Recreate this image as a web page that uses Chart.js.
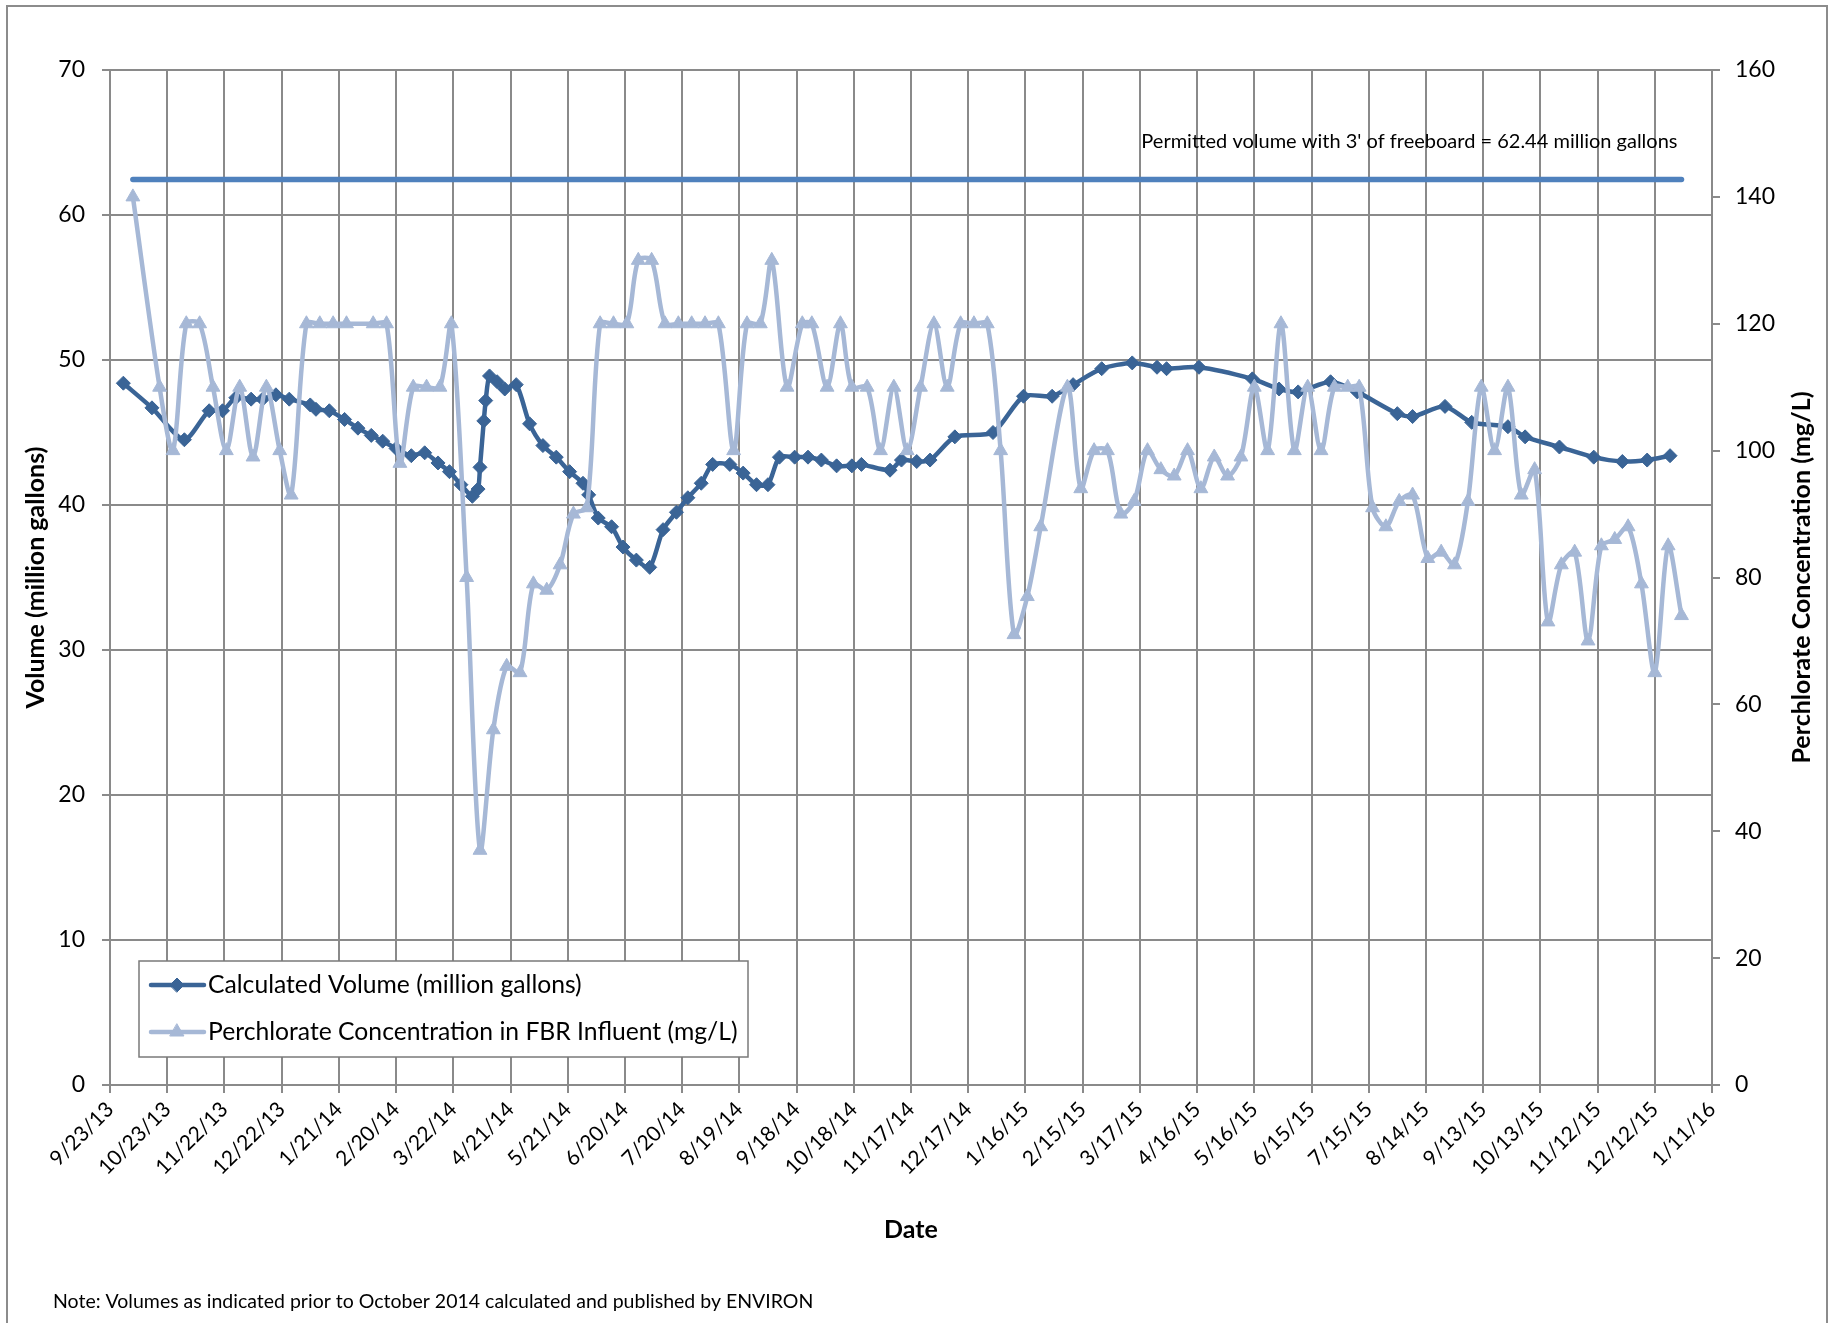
<!DOCTYPE html>
<html>
<head>
<meta charset="utf-8">
<title>Calculated Volume and Perchlorate Concentration</title>
<script src="https://cdn.jsdelivr.net/npm/chart.js@4.4.1/dist/chart.umd.min.js"></script>
<style>
    html, body { margin: 0; padding: 0; background: #fff; }
    #wrap { width: 1841px; height: 1323px; }
</style>
</head>
<body>
<div id="wrap"><canvas id="grafico" width="1841" height="1323"></canvas></div>
<script>
// Valores (datas em M/D/AA)
const volumeDates = ['9/30/13', '10/15/13', '11/1/13', '11/14/13', '11/21/13', '11/28/13', '12/6/13', '12/12/13', '12/19/13', '12/26/13',
    '1/6/14', '1/9/14', '1/16/14', '1/24/14', '1/31/14', '2/7/14', '2/13/14', '2/20/14', '2/28/14', '3/7/14',
    '3/14/14', '3/20/14', '3/26/14', '4/1/14', '4/4/14', '4/5/14', '4/7/14', '4/8/14', '4/10/14', '4/14/14',
    '4/18/14', '4/24/14', '5/1/14', '5/8/14', '5/15/14', '5/22/14', '5/29/14', '6/1/14', '6/6/14', '6/13/14',
    '6/19/14', '6/26/14', '7/3/14', '7/10/14', '7/17/14', '7/23/14', '7/30/14', '8/5/14', '8/14/14', '8/21/14',
    '8/28/14', '9/3/14', '9/9/14', '9/17/14', '9/24/14', '10/1/14', '10/9/14', '10/17/14', '10/22/14', '11/6/14',
    '11/12/14', '11/20/14', '11/27/14', '12/10/14', '12/30/14', '1/15/15', '1/30/15', '2/10/15', '2/25/15', '3/13/15',
    '3/26/15', '3/31/15', '4/17/15', '5/15/15', '5/29/15', '6/8/15', '6/25/15', '7/9/15', '7/30/15', '8/7/15',
    '8/24/15', '9/7/15', '9/26/15', '10/5/15', '10/23/15', '11/10/15', '11/25/15', '12/8/15', '12/20/15'];
const volumeValues = [48.4, 46.7, 44.5, 46.5, 46.5, 47.4, 47.3, 47.3, 47.6, 47.3,
    46.9, 46.6, 46.5, 45.9, 45.3, 44.8, 44.4, 43.9, 43.4, 43.6,
    42.9, 42.3, 41.4, 40.6, 41.1, 42.6, 45.8, 47.2, 48.9, 48.5,
    48.0, 48.3, 45.6, 44.1, 43.3, 42.3, 41.5, 40.7, 39.1, 38.5,
    37.1, 36.2, 35.7, 38.3, 39.5, 40.5, 41.5, 42.8, 42.8, 42.2,
    41.4, 41.4, 43.3, 43.3, 43.3, 43.1, 42.7, 42.7, 42.8, 42.4,
    43.1, 43.0, 43.1, 44.7, 45.0, 47.5, 47.5, 48.3, 49.4, 49.8,
    49.5, 49.4, 49.5, 48.7, 48.0, 47.8, 48.5, 47.8, 46.3, 46.1,
    46.8, 45.7, 45.4, 44.7, 44.0, 43.3, 43.0, 43.1, 43.4];

const perchlorateDates = ['10/5/13', '10/19/13', '10/26/13', '11/2/13', '11/9/13', '11/16/13', '11/23/13', '11/30/13', '12/7/13', '12/14/13',
    '12/21/13', '12/27/13', '1/4/14', '1/11/14', '1/18/14', '1/25/14', '2/8/14', '2/15/14', '2/22/14', '3/1/14',
    '3/8/14', '3/15/14', '3/21/14', '3/29/14', '4/5/14', '4/12/14', '4/19/14', '4/26/14', '5/3/14', '5/10/14',
    '5/17/14', '5/24/14', '5/31/14', '6/7/14', '6/14/14', '6/21/14', '6/27/14', '7/4/14', '7/11/14', '7/18/14',
    '7/25/14', '8/1/14', '8/8/14', '8/16/14', '8/23/14', '8/30/14', '9/5/14', '9/13/14', '9/21/14', '9/26/14',
    '10/4/14', '10/11/14', '10/17/14', '10/25/14', '11/1/14', '11/8/14', '11/15/14', '11/22/14', '11/29/14', '12/6/14',
    '12/13/14', '12/20/14', '12/27/14', '1/3/15', '1/10/15', '1/17/15', '1/24/15', '2/7/15', '2/14/15', '2/21/15',
    '2/28/15', '3/7/15', '3/14/15', '3/21/15', '3/28/15', '4/4/15', '4/11/15', '4/18/15', '4/25/15', '5/2/15',
    '5/9/15', '5/16/15', '5/23/15', '5/30/15', '6/6/15', '6/13/15', '6/20/15', '6/27/15', '7/4/15', '7/10/15',
    '7/17/15', '7/24/15', '7/31/15', '8/7/15', '8/15/15', '8/22/15', '8/29/15', '9/5/15', '9/12/15', '9/19/15',
    '9/26/15', '10/3/15', '10/10/15', '10/17/15', '10/24/15', '10/31/15', '11/7/15', '11/14/15', '11/21/15', '11/28/15',
    '12/5/15', '12/12/15', '12/19/15', '12/26/15'];
const perchlorateValues = [140, 110, 100, 120, 120, 110, 100, 110, 99, 110,
    100, 93, 120, 120, 120, 120, 120, 120, 98, 110,
    110, 110, 120, 80, 37, 56, 66, 65, 79, 78,
    82, 90, 91, 120, 120, 120, 130, 130, 120, 120,
    120, 120, 120, 100, 120, 120, 130, 110, 120, 120,
    110, 120, 110, 110, 100, 110, 100, 110, 120, 110,
    120, 120, 120, 100, 71, 77, 88, 110, 94, 100,
    100, 90, 92, 100, 97, 96, 100, 94, 99, 96,
    99, 110, 100, 120, 100, 110, 100, 110, 110, 110,
    91, 88, 92, 93, 83, 84, 82, 92, 110, 100,
    110, 93, 97, 73, 82, 84, 70, 85, 86, 88,
    79, 65, 85, 74];

const permittedDates = ['10/5/13', '12/26/15'];
const permittedValues = [62.44, 62.44];

const startDate = new Date(2013, 8, 23); // 9/23/13, primeiro rótulo do eixo
const lastDay = 840;                     // 1/11/16
const dayStep = 30;

const volumeColor = '#3a6496';
const perchlorateColor = '#a6b8d6';
const permittedColor = '#4f81bd';
const gridColor = '#8a8a8a';
const fontFamily = 'Lato, "Open Sans", sans-serif';

function toDay(s) {
    const p = s.split('/').map(Number);
    const d = new Date(2000 + p[2], p[0] - 1, p[1]);
    return Math.round((d - startDate) / 86400000);
}

function dayLabel(v) {
    const d = new Date(2013, 8, 23 + v);
    return (d.getMonth() + 1) + '/' + d.getDate() + '/' + String(d.getFullYear()).slice(2);
}

function toPoints(dates, values) {
    return dates.map((d, i) => ({ x: toDay(d), y: values[i] }));
}

// Textos extras, moldura e legenda desenhados no canvas
const extras = {
    id: 'extras',
    afterDraw(chart) {
        const ctx = chart.ctx;
        const xs = chart.scales.x;
        const ys = chart.scales.y;
        const area = chart.chartArea;
        ctx.save();

        // moldura externa
        ctx.strokeStyle = '#8c8c8c';
        ctx.lineWidth = 2;
        ctx.strokeRect(7, 6, 1820, 1330);

        // anotação da linha permitida
        ctx.fillStyle = '#000';
        ctx.font = '20px ' + fontFamily;
        ctx.textAlign = 'right';
        ctx.textBaseline = 'middle';
        ctx.fillText("Permitted volume with 3' of freeboard = 62.44 million gallons",
            xs.getPixelForValue(toDay(permittedDates[1])) - 4, ys.getPixelForValue(permittedValues[1]) - 38);

        // título do eixo direito (lido de baixo para cima)
        ctx.save();
        ctx.translate(1802, (area.top + area.bottom) / 2);
        ctx.rotate(-Math.PI / 2);
        ctx.textAlign = 'center';
        ctx.font = 'bold 25px ' + fontFamily;
        ctx.fillText('Perchlorate Concentration (mg/L)', 0, 0);
        ctx.restore();

        // nota de rodapé
        ctx.textAlign = 'left';
        ctx.font = '19.5px ' + fontFamily;
        ctx.fillText('Note: Volumes as indicated prior to October 2014 calculated and published by ENVIRON', 53, 1302);

        // legenda
        const box = { x: 139, y: 961, w: 609, h: 96 };
        ctx.fillStyle = '#fff';
        ctx.fillRect(box.x, box.y, box.w, box.h);
        ctx.strokeStyle = '#7a7a7a';
        ctx.lineWidth = 1.5;
        ctx.strokeRect(box.x, box.y, box.w, box.h);

        const rows = [
            { text: 'Calculated Volume (million gallons)', color: volumeColor, style: 'rectRot', radius: 7, y: 985 },
            { text: 'Perchlorate Concentration in FBR Influent (mg/L)', color: perchlorateColor, style: 'triangle', radius: 8, y: 1032 }
        ];
        rows.forEach(r => {
            ctx.strokeStyle = r.color;
            ctx.lineWidth = 4.5;
            ctx.lineCap = 'round';
            ctx.beginPath();
            ctx.moveTo(151, r.y);
            ctx.lineTo(204, r.y);
            ctx.stroke();
            ctx.fillStyle = r.color;
            ctx.lineWidth = 1;
            Chart.helpers.drawPoint(ctx, { pointStyle: r.style, radius: r.radius, borderWidth: 1, rotation: 0 }, 177, r.y);
            ctx.fillStyle = '#000';
            ctx.font = '24.7px ' + fontFamily;
            ctx.textAlign = 'left';
            ctx.fillText(r.text, 208, r.y);
        });

        ctx.restore();
    }
};

const ctx = document.getElementById('grafico').getContext('2d');

new Chart(ctx, {
    type: 'line',
    data: {
        datasets: [
            {
                label: 'Perchlorate Concentration in FBR Influent (mg/L)',
                data: toPoints(perchlorateDates, perchlorateValues),
                yAxisID: 'y1',
                borderColor: perchlorateColor,
                backgroundColor: perchlorateColor,
                borderWidth: 4.5,
                pointStyle: 'triangle',
                pointRadius: 8,
                pointBorderWidth: 1,
                tension: 0.3,
                order: 1
            },
            {
                label: 'Calculated Volume (million gallons)',
                data: toPoints(volumeDates, volumeValues),
                yAxisID: 'y',
                borderColor: volumeColor,
                backgroundColor: volumeColor,
                borderWidth: 4.5,
                pointStyle: 'rectRot',
                pointRadius: 7,
                pointBorderWidth: 1,
                tension: 0.25,
                order: 2
            },
            {
                label: 'Permitted volume',
                data: toPoints(permittedDates, permittedValues),
                yAxisID: 'y',
                borderColor: permittedColor,
                borderWidth: 5.5,
                borderCapStyle: 'round',
                pointRadius: 0,
                order: 3
            }
        ]
    },
    options: {
        responsive: false,
        animation: false,
        devicePixelRatio: 1,
        layout: {
            padding: { top: 70, left: 0, right: 0, bottom: 0 }
        },
        plugins: {
            legend: { display: false },
            tooltip: { enabled: false }
        },
        scales: {
            x: {
                type: 'linear',
                min: 0,
                max: lastDay,
                afterFit: s => { s.height = 238; },
                ticks: {
                    stepSize: dayStep,
                    maxTicksLimit: 100,
                    autoSkip: false,
                    minRotation: 45,
                    maxRotation: 45,
                    padding: 4,
                    color: '#000',
                    font: { family: fontFamily, size: 21 },
                    callback: v => dayLabel(v)
                },
                grid: { color: gridColor, lineWidth: 2, tickLength: 8 },
                border: { color: gridColor, width: 2 },
                title: {
                    display: true,
                    text: 'Date',
                    color: '#000',
                    font: { family: fontFamily, size: 25, weight: 'bold' },
                    padding: { top: 0, bottom: 78 }
                }
            },
            y: {
                position: 'left',
                min: 0,
                max: 70,
                afterFit: s => { s.width = 110; },
                ticks: {
                    stepSize: 10,
                    padding: 17,
                    color: '#000',
                    font: { family: fontFamily, size: 23 }
                },
                grid: { color: gridColor, lineWidth: 2, tickLength: 8 },
                border: { color: gridColor, width: 2 },
                title: {
                    display: true,
                    text: 'Volume (million gallons)',
                    color: '#000',
                    font: { family: fontFamily, size: 25, weight: 'bold' },
                    padding: { top: 21, bottom: 0 }
                }
            },
            y1: {
                position: 'right',
                min: 0,
                max: 160,
                afterFit: s => { s.width = 129; },
                ticks: {
                    stepSize: 20,
                    padding: 15,
                    color: '#000',
                    font: { family: fontFamily, size: 23 }
                },
                grid: { drawOnChartArea: false, color: gridColor, lineWidth: 2, tickLength: 8 },
                border: { color: gridColor, width: 2 }
            }
        }
    },
    plugins: [extras]
});
</script>
</body>
</html>
